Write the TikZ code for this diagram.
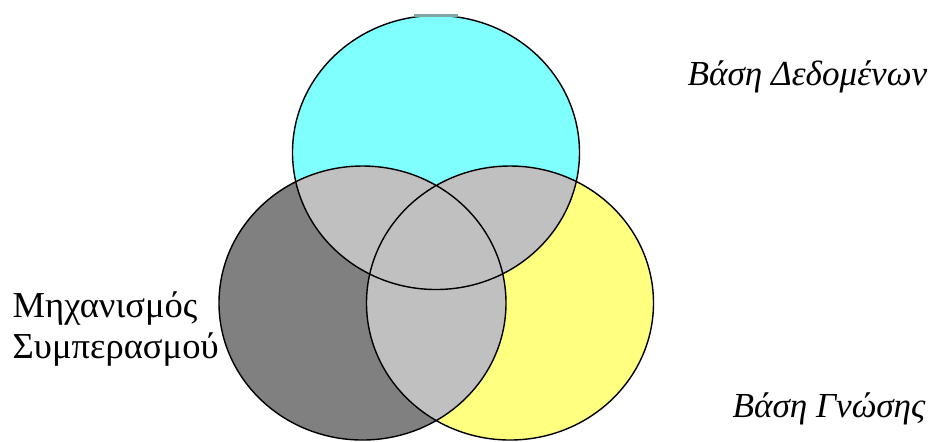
\documentclass[tikz,border=0pt]{standalone}
\usepackage{fontspec}
\setmainfont{Liberation Serif}
\definecolor{dbcyan}{HTML}{80FFFF}
\definecolor{kbyellow}{HTML}{FFFF80}
\definecolor{iegray}{HTML}{808080}
\definecolor{overlap}{HTML}{C0C0C0}
\begin{document}
\begin{tikzpicture}[x=0.01cm, y=-0.01cm, line join=round, line width=0.4pt,
  font=\fontsize{9.7}{11.7}\selectfont,
  venn/.style={x radius=143.5, y radius=137}]
  \useasboundingbox (0,0) rectangle (939,441);
  \coordinate (db) at (436,152.5);
  \coordinate (ie) at (362.5,303);
  \coordinate (kb) at (510,303);
  \fill[dbcyan] (db) ellipse [venn];
  \fill[iegray] (ie) ellipse [venn];
  \fill[kbyellow] (kb) ellipse [venn];
  \begin{scope}
    \clip (db) ellipse [venn];
    \fill[overlap] (ie) ellipse [venn] (kb) ellipse [venn];
  \end{scope}
  \begin{scope}
    \clip (ie) ellipse [venn];
    \fill[overlap] (kb) ellipse [venn];
  \end{scope}
  \draw (db) ellipse [venn] (ie) ellipse [venn] (kb) ellipse [venn];
  \draw[line width=0.7pt, color=iegray!70!dbcyan] (414,15.5) -- (458,15.5);
  \node[anchor=base west, inner sep=0pt, font=\itshape] (dblabel) at (687,85) {Βάση Δεδομένων};
  \node[anchor=base west, inner sep=0pt, align=left, font=\fontsize{10.4}{11.6}\selectfont] (ielabel) at (12,358) {Μηχανισμός\\Συμπερασμού};
  \node[anchor=base west, inner sep=0pt, font=\itshape] (kblabel) at (732,417) {Βάση Γνώσης};
\end{tikzpicture}
\end{document}
